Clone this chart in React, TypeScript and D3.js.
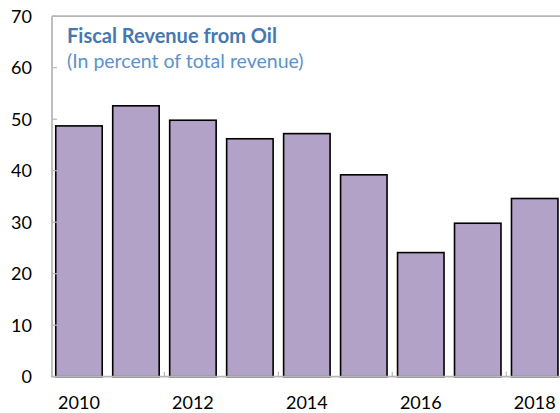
import { useEffect, useRef } from 'react';
import * as d3 from 'd3';

const years = ['2010', '2011', '2012', '2013', '2014', '2015', '2016', '2017', '2018'];
const oilShare = [48.7, 52.6, 49.8, 46.2, 47.2, 39.2, 24.1, 29.8, 34.6];
const yTicks = [0, 10, 20, 30, 40, 50, 60, 70];
const xLabelYears = ['2010', '2012', '2014', '2016', '2018'];

const App = () => {
  const svgRef = useRef<SVGSVGElement>(null);

  useEffect(() => {
    const width = 560;
    const height = 413;
    const left = 52;
    const top = 16.2;
    const bottom = 376.7;
    const font = 'Lato, "Open Sans", sans-serif';

    const svg = d3.select(svgRef.current)
      .attr('width', width)
      .attr('height', height);
    svg.selectAll('*').remove();

    const x = d3.scaleBand()
      .domain(years)
      .range([55, 558.7])
      .paddingInner(0.158)
      .paddingOuter(0);

    const y = d3.scaleLinear()
      .domain([0, 70])
      .range([bottom, top]);

    const gap = x.step() - x.bandwidth();

    // bars
    svg.append('g')
      .selectAll('rect')
      .data(oilShare)
      .enter().append('rect')
      .attr('x', (d, i) => x(years[i])! + 0.75)
      .attr('y', d => y(d))
      .attr('width', x.bandwidth() - 1.5)
      .attr('height', d => y(0) - y(d))
      .attr('fill', '#b3a2c7')
      .attr('stroke', '#000')
      .attr('stroke-width', 1.6);

    const axisColor = '#b7b7b7';

    // frame: left axis, top line, bottom axis
    svg.append('line')
      .attr('x1', left).attr('x2', left)
      .attr('y1', top).attr('y2', bottom)
      .attr('stroke', axisColor).attr('stroke-width', 1.8);
    svg.append('line')
      .attr('x1', left).attr('x2', width)
      .attr('y1', top).attr('y2', top)
      .attr('stroke', axisColor).attr('stroke-width', 1.8);
    svg.append('line')
      .attr('x1', left - 1).attr('x2', width)
      .attr('y1', bottom).attr('y2', bottom)
      .attr('stroke', axisColor).attr('stroke-width', 1.8);

    // y ticks and labels
    svg.append('g')
      .selectAll('line')
      .data(yTicks)
      .enter().append('line')
      .attr('x1', left).attr('x2', left + 5)
      .attr('y1', d => y(d)).attr('y2', d => y(d))
      .attr('stroke', axisColor).attr('stroke-width', 1.2);

    svg.append('g')
      .selectAll('text')
      .data(yTicks)
      .enter().append('text')
      .attr('x', 32)
      .attr('y', d => y(d) + 6.5)
      .attr('text-anchor', 'end')
      .attr('font-family', font)
      .attr('font-size', 18)
      .attr('fill', '#000')
      .text(d => d);

    // x ticks between bars, every second category
    svg.append('g')
      .selectAll('line')
      .data(xLabelYears.slice(1))
      .enter().append('line')
      .attr('x1', d => x(d)! - gap / 2).attr('x2', d => x(d)! - gap / 2)
      .attr('y1', bottom).attr('y2', bottom - 5)
      .attr('stroke', axisColor).attr('stroke-width', 1.2);

    svg.append('g')
      .selectAll('text')
      .data(xLabelYears)
      .enter().append('text')
      .attr('x', d => x(d)! + x.bandwidth() / 2)
      .attr('y', 408.5)
      .attr('text-anchor', 'middle')
      .attr('font-family', font)
      .attr('font-size', 18)
      .attr('fill', '#000')
      .text(d => d);

    // title
    svg.append('text')
      .attr('x', 67)
      .attr('y', 43)
      .attr('font-family', font)
      .attr('font-size', 20)
      .attr('font-weight', 'bold')
      .attr('fill', '#4678b0')
      .text('Fiscal Revenue from Oil');
    svg.append('text')
      .attr('x', 67)
      .attr('y', 68)
      .attr('font-family', font)
      .attr('font-size', 19.5)
      .attr('fill', '#5b92cb')
      .text('(In percent of total revenue)');
  }, []);

  return <svg ref={svgRef} style={{ position: 'absolute', left: 0, top: 0 }}></svg>;
};

export default App;
